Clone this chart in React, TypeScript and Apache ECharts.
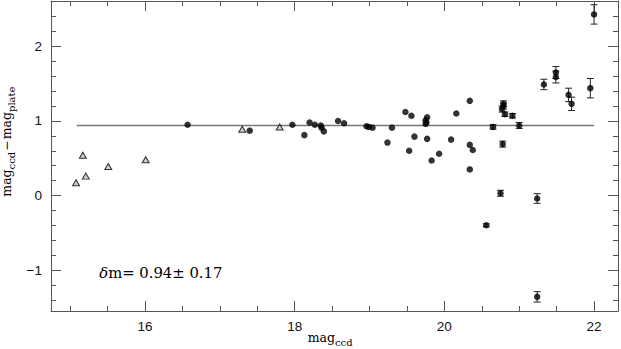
import React, { useEffect, useRef } from 'react';
import * as echarts from 'echarts';

// Axis ranges
const X_MIN = 14.745;
const X_MAX = 22.32;
const Y_MIN = -1.55;
const Y_MAX = 2.61;

// Plate-only comparison stars (open triangles)
const triX = [15.08, 15.21, 15.17, 15.51, 16.01, 17.3, 17.8];
const triY = [0.17, 0.26, 0.54, 0.39, 0.48, 0.89, 0.92];

// CCD stars (filled dots) with error bars
const dotX = [
  16.57, 17.4, 17.97, 18.13, 18.2, 18.27, 18.35, 18.36, 18.39, 18.58, 18.66,
  18.96, 18.99, 19.04, 19.24, 19.3, 19.48, 19.53, 19.56, 19.6, 19.77, 19.75,
  19.76, 19.75, 19.77, 19.83, 19.93, 20.09, 20.16, 20.34, 20.34, 20.38, 20.34,
  20.56, 20.65, 20.79, 20.79, 20.77, 20.81, 20.78, 20.75, 20.91, 21.0, 21.24,
  21.24, 21.33, 21.49, 21.49, 21.66, 21.7, 21.95, 22.0,
];
const dotY = [
  0.95, 0.87, 0.95, 0.81, 0.98, 0.95, 0.94, 0.91, 0.86, 1.0, 0.97,
  0.93, 0.92, 0.91, 0.71, 0.91, 1.12, 0.6, 1.07, 0.79, 1.05, 1.01,
  0.98, 0.96, 0.76, 0.47, 0.56, 0.75, 1.1, 1.27, 0.68, 0.61, 0.35,
  -0.4, 0.92, 1.23, 1.2, 1.16, 1.09, 0.69, 0.03, 1.07, 0.94, -0.04,
  -1.36, 1.49, 1.65, 1.59, 1.35, 1.23, 1.44, 2.43,
];
const dotErr = [
  0, 0, 0, 0, 0, 0, 0, 0, 0, 0, 0,
  0, 0, 0, 0, 0, 0, 0, 0, 0, 0, 0,
  0, 0, 0, 0, 0, 0, 0, 0, 0, 0, 0,
  0.02, 0.03, 0.04, 0.04, 0.04, 0.03, 0.04, 0.04, 0.03, 0.04, 0.065,
  0.07, 0.07, 0.08, 0.08, 0.09, 0.09, 0.13, 0.13,
];

// Mean offset line
const meanValue = 0.94;
const meanLineX = [15.09, 22.0];

// Texts
const annotationSymbol = 'δ';
const annotationRest = 'm= 0.94± 0.17';
const xName = ['mag', 'ccd'];
const yName = ['mag', 'ccd', '−', 'mag', 'plate'];

const SERIF = '"DejaVu Serif", "Liberation Serif", serif';
const AXIS_COLOR = '#555';

function measure(text: string, font: string): number {
  const ctx = document.createElement('canvas').getContext('2d');
  if (!ctx) return text.length * 7;
  ctx.font = font;
  return ctx.measureText(text).width;
}

function tickFormatter(v: number): string {
  if (Math.abs(v - Math.round(v)) > 1e-6) return '';
  return String(Math.round(v)).replace('-', '−');
}

export default function App() {
  const ref = useRef<HTMLDivElement>(null);

  useEffect(() => {
    if (!ref.current) return;
    const chart = echarts.init(ref.current, undefined, { renderer: 'svg' });

    const MAIN = 12.5;
    const SUB = 10;
    const mainFont = `${MAIN}px ${SERIF}`;
    const subFont = `${SUB}px ${SERIF}`;

    // x axis name pieces
    const xGraphic: any[] = [];
    let cx = 307.7;
    const xBase = 344;
    xName.forEach((t, i) => {
      const sub = i % 2 === 1;
      const font = sub ? subFont : mainFont;
      xGraphic.push({
        type: 'text',
        x: cx,
        y: sub ? xBase + 3.3 : xBase,
        style: {
          text: t,
          fontFamily: SERIF,
          fontSize: sub ? SUB : MAIN,
          fill: '#000',
          align: 'left',
          verticalAlign: 'bottom',
        },
      });
      cx += measure(t, font);
    });

    // y axis name pieces (rotated group)
    const yChildren: any[] = [];
    let lx = 0;
    yName.forEach((t, i) => {
      const sub = i === 1 || i === 4;
      const font = sub ? subFont : mainFont;
      if (i === 2 || i === 3) lx += 1;
      yChildren.push({
        type: 'text',
        x: lx,
        y: sub ? 3.3 : 0,
        style: {
          text: t,
          fontFamily: SERIF,
          fontSize: sub ? SUB : MAIN,
          fill: '#000',
          align: 'left',
          verticalAlign: 'bottom',
        },
      });
      lx += measure(t, font);
    });

    const ANN = 14.8;
    const annFont = `${ANN}px ${SERIF}`;
    const symW = measure(annotationSymbol, `italic ${annFont}`);

    const makeX = (pos: 'bottom' | 'top', labels: boolean) => ({
      type: 'value',
      position: pos,
      min: X_MIN,
      max: X_MAX,
      splitNumber: 4,
      axisLine: { show: true, onZero: false, lineStyle: { color: AXIS_COLOR, width: 1 } },
      axisTick: { show: true, inside: true, length: 10, lineStyle: { color: AXIS_COLOR } },
      minorTick: { show: true, splitNumber: 4, length: 5, lineStyle: { color: AXIS_COLOR } },
      splitLine: { show: false },
      minorSplitLine: { show: false },
      axisLabel: {
        show: labels,
        margin: 8,
        fontSize: 13.5,
        fontFamily: '"Liberation Sans", Arial, sans-serif',
        color: '#111',
        formatter: tickFormatter,
      },
    });
    const makeY = (pos: 'left' | 'right', labels: boolean) => ({
      type: 'value',
      position: pos,
      min: Y_MIN,
      max: Y_MAX,
      splitNumber: 4,
      axisLine: { show: true, onZero: false, lineStyle: { color: AXIS_COLOR, width: 1 } },
      axisTick: { show: true, inside: true, length: 10, lineStyle: { color: AXIS_COLOR } },
      minorTick: { show: true, splitNumber: 5, length: 5, lineStyle: { color: AXIS_COLOR } },
      splitLine: { show: false },
      minorSplitLine: { show: false },
      axisLabel: {
        show: labels,
        margin: 9,
        fontSize: 13.5,
        fontFamily: '"Liberation Sans", Arial, sans-serif',
        color: '#111',
        formatter: tickFormatter,
      },
    });

    const option: any = {
      animation: false,
      backgroundColor: '#fff',
      grid: { left: 51, right: 3, top: 1, bottom: 38, containLabel: false },
      xAxis: [makeX('bottom', true), makeX('top', false)],
      yAxis: [makeY('left', true), makeY('right', false)],
      series: [
        {
          type: 'line',
          data: meanLineX.map((x) => [x, meanValue]),
          symbol: 'none',
          lineStyle: { color: '#777', width: 1.5 },
          z: 1,
          silent: true,
        },
        {
          type: 'custom',
          data: dotX.map((x, i) => [x, dotY[i], dotErr[i]]),
          encode: { x: 0, y: 1 },
          z: 2,
          renderItem: (_params: any, api: any) => {
            const x = api.value(0);
            const y = api.value(1);
            const e = api.value(2);
            if (!e) return null;
            const top = api.coord([x, y + e]);
            const bot = api.coord([x, y - e]);
            const hw = 3.5;
            const st = { stroke: '#222', lineWidth: 1 };
            return {
              type: 'group',
              children: [
                { type: 'line', shape: { x1: top[0], y1: top[1], x2: bot[0], y2: bot[1] }, style: st },
                { type: 'line', shape: { x1: top[0] - hw, y1: top[1], x2: top[0] + hw, y2: top[1] }, style: st },
                { type: 'line', shape: { x1: bot[0] - hw, y1: bot[1], x2: bot[0] + hw, y2: bot[1] }, style: st },
              ],
            };
          },
        },
        {
          type: 'scatter',
          data: triX.map((x, i) => [x, triY[i]]),
          symbol: 'triangle',
          symbolSize: [7, 6],
          itemStyle: { color: '#c4c4c4', borderColor: '#000', borderWidth: 1 },
          z: 3,
        },
        {
          type: 'scatter',
          data: dotX.map((x, i) => [x, dotY[i]]),
          symbol: 'circle',
          symbolSize: 6.5,
          itemStyle: { color: '#000' },
          z: 4,
        },
      ],
      graphic: [
        ...xGraphic,
        {
          type: 'group',
          x: 13.3,
          y: 196.7,
          rotation: Math.PI / 2,
          children: yChildren,
        },
        {
          type: 'text',
          x: 99.3,
          y: 279.5,
          style: {
            text: annotationSymbol,
            fontFamily: SERIF,
            fontSize: ANN,
            fontStyle: 'italic',
            fill: '#000',
            align: 'left',
            verticalAlign: 'bottom',
          },
        },
        {
          type: 'text',
          x: 99.3 + symW,
          y: 279.5,
          style: {
            text: annotationRest,
            fontFamily: SERIF,
            fontSize: ANN,
            fill: '#000',
            align: 'left',
            verticalAlign: 'bottom',
          },
        },
      ],
    };

    chart.setOption(option);
    return () => chart.dispose();
  }, []);

  return (
    <div
      ref={ref}
      style={{ position: 'fixed', left: 0, top: 0, width: 621, height: 349, background: '#fff' }}
    />
  );
}
